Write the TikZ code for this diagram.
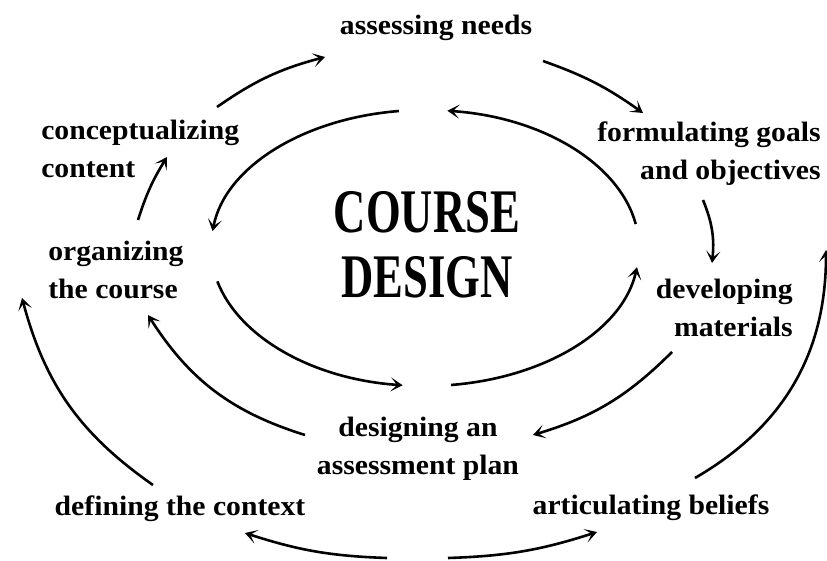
\documentclass[tikz,border=0pt]{standalone}
\usepackage{fontspec}
\usepackage{tikz}
\usetikzlibrary{arrows.meta}
\newfontfamily\lblfont[FakeStretch=1.06]{Liberation Serif}
\newfontfamily\ttlfont[FakeStretch=0.72]{Liberation Serif}
\begin{document}
\begin{tikzpicture}[x=1pt,y=1pt,>={Stealth[length=12pt,width=14pt,inset=6.5pt]},line width=2.6pt]
\tikzstyle{lbl}=[inner sep=0pt,font=\lblfont\bfseries\fontsize{28}{38}\selectfont]
\tikzstyle{ttl}=[inner sep=0pt,align=center,font=\ttlfont\bfseries\fontsize{62}{65}\selectfont]
  \useasboundingbox(0,0)rectangle(827,560);
  \node(title)at(427,315)[ttl]{COURSE\\DESIGN};
  \node(needs)at(436,532)[lbl]{assessing needs};
  \node(goals)at(822,406)[lbl,anchor=east,align=right]{formulating goals\\and objectives};
  \node(mater)at(794,252)[lbl,anchor=east,align=right]{developing\\materials};
  \node(plan)at(418,111)[lbl,align=center]{designing an\\assessment plan};
  \node(organ)at(47,290)[lbl,anchor=west,align=left]{organizing\\the course};
  \node(concept)at(40,411)[lbl,anchor=west,align=left]{conceptualizing\\content};
  \node(context)at(180,51)[lbl]{defining the context};
  \node(beliefs)at(651,52)[lbl]{articulating beliefs};
  \coordinate(ctr)at(425,312);
  \path(ctr)++(10:214pt and 138pt)coordinate(i1);
  \path(ctr)++(97:214pt and 138pt)coordinate(i2);
  \path(ctr)++(194:214pt and 138pt)coordinate(i3);
  \path(ctr)++(277:214pt and 138pt)coordinate(i4);
  \draw[->](i1)arc[start angle=10,end angle=84,x radius=214pt,y radius=138pt];
  \draw[->](i2)arc[start angle=97,end angle=173,x radius=214pt,y radius=138pt];
  \draw[->](i3)arc[start angle=194,end angle=264,x radius=214pt,y radius=138pt];
  \draw[->](i4)arc[start angle=277,end angle=352,x radius=214pt,y radius=138pt];
  \coordinate(na)at(543,499);\coordinate(gb)at(643,447);
  \coordinate(ga)at(703,360);\coordinate(db)at(712,297);
  \coordinate(da)at(672,208);\coordinate(pb)at(533,125);
  \coordinate(pa)at(305,125);\coordinate(ob)at(148,245);
  \coordinate(oa)at(138,340);\coordinate(cb)at(167,403);
  \coordinate(ca)at(217,453);\coordinate(nb)at(325,503);
  \coordinate(bl)at(387,2);\coordinate(xb)at(245,27);
  \coordinate(br)at(448,2);\coordinate(ab)at(597,28);
  \coordinate(xa)at(153,75);\coordinate(ot)at(22,262);
  \coordinate(aa)at(695,82);\coordinate(rt)at(826,310);
  \draw[->](na)to[bend left=8](gb);
  \draw[->](ga)to[bend left=14](db);
  \draw[->](da)to[bend left=14](pb);
  \draw[->](pa)to[bend left=20](ob);
  \draw[->](oa)to[bend left=7](cb);
  \draw[->](ca)to[bend left=10](nb);
  \draw[->](bl)to[bend left=8](xb);
  \draw[->](br)to[bend right=8](ab);
  \draw[->](xa)to[bend left=20](ot);
  \draw[->](aa)to[bend right=30](rt);
\end{tikzpicture}
\end{document}
